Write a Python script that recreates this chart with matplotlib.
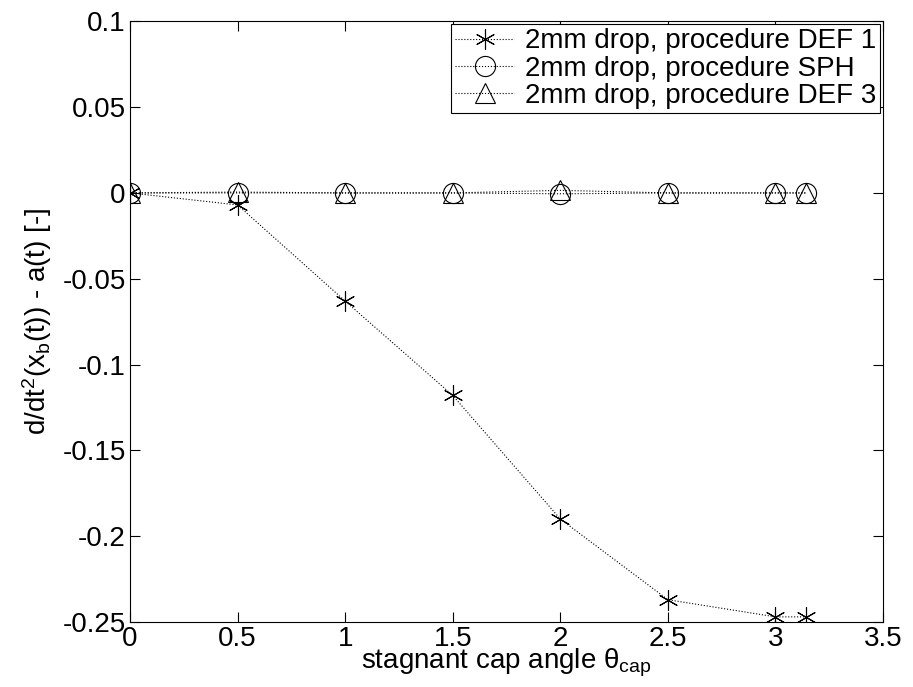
import matplotlib
matplotlib.use('Agg')
import matplotlib.pyplot as plt
import numpy as np

plt.rcParams['font.family'] = ['Liberation Sans', 'DejaVu Sans']
plt.rcParams['mathtext.fontset'] = 'custom'
plt.rcParams['mathtext.rm'] = 'Liberation Sans'
plt.rcParams['mathtext.it'] = 'Liberation Sans'

# cap angle (rad)
theta = [0, 0.5, 1.0, 1.5, 2.0, 2.5, 3.0, np.pi]
def1 = [0.0, -0.007, -0.063, -0.118, -0.190, -0.237, -0.247, -0.247]
sph = [0.0, 0.0, 0.0, 0.0, -0.0005, 0.0, 0.0, 0.0]
def3 = [0.0, 0.0005, 0.0, 0.0, 0.0015, 0.0, 0.0, 0.0]

labels = ['2mm drop, procedure DEF 1',
          '2mm drop, procedure SPH',
          '2mm drop, procedure DEF 3']
xticks = [0, 0.5, 1, 1.5, 2, 2.5, 3, 3.5]
yticks = [-0.25, -0.2, -0.15, -0.1, -0.05, 0, 0.05, 0.1]

fig = plt.figure(figsize=(9.13, 6.87), dpi=100)
ax = fig.add_axes([0.1424, 0.0946, 0.8248, 0.8744])

common = dict(color='black', linestyle=':', linewidth=0.8,
              markerfacecolor='none', markeredgecolor='black',
              markeredgewidth=0.8, markersize=14.5)
ax.plot(theta, def1, marker=(6, 2, 0), label=labels[0], **common)
ax.plot(theta, sph, marker='o', label=labels[1], **common)
ax.plot(theta, def3, marker='^', label=labels[2], **common)

ax.set_xlim(0, 3.5)
ax.set_ylim(-0.25, 0.1)
ax.set_xticks(xticks)
ax.set_xticklabels(['0', '0.5', '1', '1.5', '2', '2.5', '3', '3.5'])
ax.set_yticks(yticks)
ax.set_yticklabels(['-0.25', '-0.2', '-0.15', '-0.1', '-0.05', '0', '0.05', '0.1'])
ax.tick_params(direction='in', length=7, width=0.8, top=True, right=True,
               labelsize=20, pad=3)
for s in ax.spines.values():
    s.set_linewidth(0.8)

ax.set_xlabel(r'stagnant cap angle $\theta_{\mathrm{cap}}$', fontsize=20, labelpad=-4)
ax.set_ylabel(r'd/dt$^2$(x$_\mathrm{b}$(t)) - a(t) [-]', fontsize=20, labelpad=6)

leg = ax.legend(loc='upper right', fontsize=20, handlelength=2.1,
                handletextpad=0.4, borderpad=0.15, labelspacing=0.05,
                fancybox=False, edgecolor='black', framealpha=1,
                borderaxespad=0.1)
leg.get_frame().set_linewidth(0.8)

fig.savefig('out.png', dpi=100, facecolor='white')
